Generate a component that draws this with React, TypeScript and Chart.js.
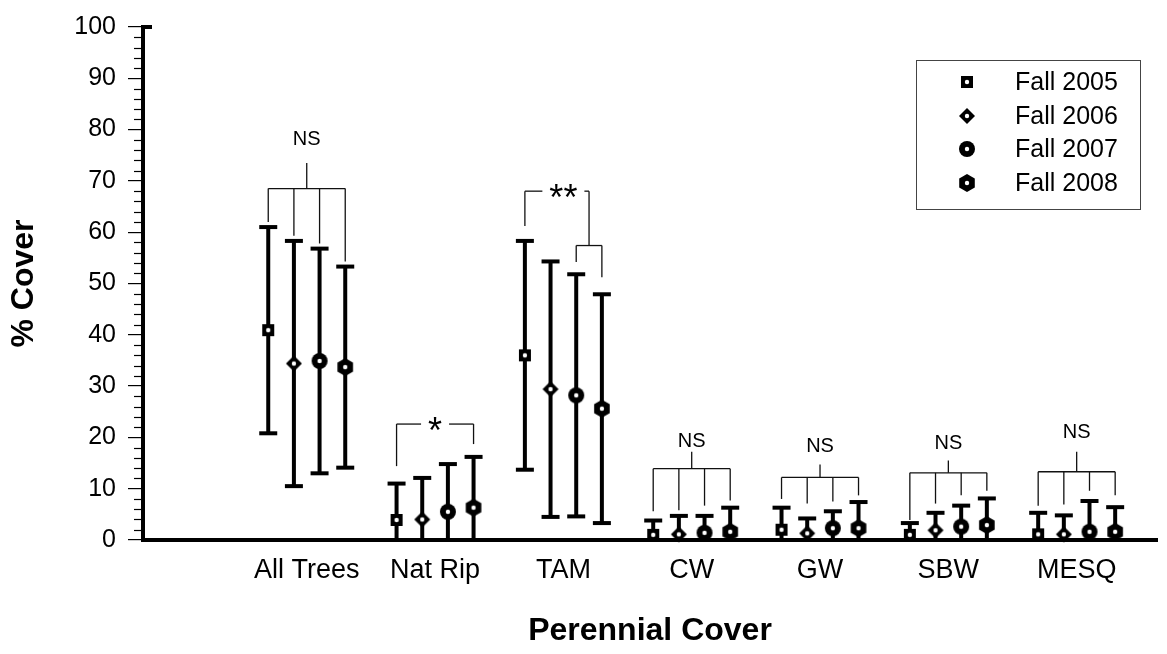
import React, { useEffect, useRef } from 'react';
import { Chart, registerables } from 'chart.js';

Chart.register(...registerables);

// ---------- data ----------
const categories = ['All Trees', 'Nat Rip', 'TAM', 'CW', 'GW', 'SBW', 'MESQ'];
const seriesNames = ['Fall 2005', 'Fall 2006', 'Fall 2007', 'Fall 2008'];

const mean2005 = [40.9, 3.9, 36.0, 1.0, 2.0, 1.0, 1.1];
const err2005 = [20.1, 7.1, 22.3, 2.8, 4.3, 2.3, 4.2];
const mean2006 = [34.4, 4.0, 29.4, 1.1, 1.3, 1.9, 1.1];
const err2006 = [23.9, 8.1, 24.9, 3.6, 2.9, 3.4, 3.7];
const mean2007 = [34.9, 5.5, 28.2, 1.4, 2.3, 2.6, 1.6];
const err2007 = [21.9, 9.3, 23.6, 3.3, 3.3, 4.1, 6.0];
const mean2008 = [33.7, 6.3, 25.6, 1.6, 2.3, 2.9, 1.6];
const err2008 = [19.6, 9.9, 22.3, 4.7, 5.1, 5.2, 4.8];

const seriesMeans = [mean2005, mean2006, mean2007, mean2008];
const seriesErrs = [err2005, err2006, err2007, err2008];

const yMajorTicks = [0, 10, 20, 30, 40, 50, 60, 70, 80, 90, 100];

// significance brackets (values in % cover units)
const bracketLabels = ['NS', '*', '**', 'NS', 'NS', 'NS', 'NS'];
const bracketLevels = [68.5, 22.6, 68.0, 13.9, 12.2, 13.1, 13.3];
const bracketSubLevels = [null, null, 57.4, null, null, null, null];
const bracketStemTops = [73.5, null, null, 17.2, 14.7, 15.5, 17.2];
const bracketLabelLevels = [78.3, 22.6, 68.0, 19.4, 18.6, 19.2, 21.2];
const bracketLegEnds = [
  [62.0, 59.3, 57.8, 54.3],
  [14.4, null, null, 18.7],
  [61.2, null, 54.2, 51.2],
  [5.6, 5.8, 6.7, 7.7],
  [8.0, 7.1, 7.5, 8.7],
  [3.9, 7.1, 8.7, 9.6],
  [6.7, 6.9, 9.6, 8.7],
];

const FONT = "'Liberation Sans', Arial, Helvetica, sans-serif";

function makeMarker(kind: number): HTMLCanvasElement {
  const c = document.createElement('canvas');
  c.width = 22;
  c.height = 22;
  const g = c.getContext('2d') as CanvasRenderingContext2D;
  const cx = 11, cy = 11;
  g.fillStyle = '#000';
  g.beginPath();
  if (kind === 0) {
    g.rect(cx - 6, cy - 6, 12, 12);
  } else if (kind === 1) {
    g.moveTo(cx, cy - 8);
    g.lineTo(cx + 8, cy);
    g.lineTo(cx, cy + 8);
    g.lineTo(cx - 8, cy);
    g.closePath();
  } else if (kind === 2) {
    g.arc(cx, cy, 8, 0, Math.PI * 2);
  } else {
    for (let i = 0; i < 6; i++) {
      const a = -Math.PI / 2 + (i * Math.PI) / 3;
      const px = cx + 9 * Math.cos(a);
      const py = cy + 9 * Math.sin(a);
      if (i === 0) g.moveTo(px, py);
      else g.lineTo(px, py);
    }
    g.closePath();
  }
  g.fill();
  g.fillStyle = '#fff';
  g.beginPath();
  g.arc(cx, cy, 2.2, 0, Math.PI * 2);
  g.fill();
  return c;
}

function centeredText(ctx: CanvasRenderingContext2D, text: string, x: number, yc: number) {
  const m = ctx.measureText(text);
  const asc = m.actualBoundingBoxAscent;
  const desc = m.actualBoundingBoxDescent;
  ctx.textAlign = 'center';
  ctx.textBaseline = 'alphabetic';
  ctx.fillText(text, x, yc + (asc - desc) / 2);
}

export default function App() {
  const ref = useRef<HTMLCanvasElement | null>(null);

  useEffect(() => {
    if (!ref.current) return;
    const markers = [0, 1, 2, 3].map(makeMarker);
    const off = (s: number) => (s - 1.5) * 0.2;

    const customPlugin = {
      id: 'customDraw',
      beforeDatasetsDraw(chart: any) {
        const { ctx } = chart;
        const x = chart.scales.x;
        const y = chart.scales.y;
        ctx.save();
        // error bars
        ctx.strokeStyle = '#000';
        ctx.lineWidth = 4;
        ctx.lineCap = 'butt';
        seriesMeans.forEach((means, s) => {
          means.forEach((m, g) => {
            const e = seriesErrs[s][g];
            const px = x.getPixelForValue(g + 1 + off(s));
            const hi = y.getPixelForValue(m + e);
            const loV = m - e;
            const lo = y.getPixelForValue(Math.max(0, loV));
            ctx.beginPath();
            ctx.moveTo(px, hi);
            ctx.lineTo(px, lo);
            ctx.stroke();
            ctx.beginPath();
            ctx.moveTo(px - 9, hi);
            ctx.lineTo(px + 9, hi);
            ctx.stroke();
            if (loV >= 0) {
              ctx.beginPath();
              ctx.moveTo(px - 9, lo);
              ctx.lineTo(px + 9, lo);
              ctx.stroke();
            }
          });
        });
        // brackets
        ctx.strokeStyle = '#111';
        ctx.fillStyle = '#000';
        ctx.lineWidth = 1.3;
        const line = (x1: number, y1: number, x2: number, y2: number) => {
          ctx.beginPath();
          ctx.moveTo(x1, y1);
          ctx.lineTo(x2, y2);
          ctx.stroke();
        };
        categories.forEach((_, g) => {
          const xs = [0, 1, 2, 3].map((s) => x.getPixelForValue(g + 1 + off(s)));
          const xc = x.getPixelForValue(g + 1);
          const lvl = y.getPixelForValue(bracketLevels[g]);
          const sub = bracketSubLevels[g];
          const subPx = sub != null ? y.getPixelForValue(sub) : null;
          const label = bracketLabels[g];
          const legs = bracketLegEnds[g];
          legs.forEach((le, s) => {
            if (le == null) return;
            const top = subPx != null && s >= 2 ? subPx : lvl;
            line(xs[s], top, xs[s], y.getPixelForValue(le));
          });
          if (label === 'NS') {
            line(xs[0], lvl, xs[3], lvl);
            const st = bracketStemTops[g] as number;
            line(xc, lvl, xc, y.getPixelForValue(st));
            ctx.font = `20px ${FONT}`;
            centeredText(ctx, label, xc, y.getPixelForValue(bracketLabelLevels[g]));
          } else {
            let rightX = xs[3];
            if (subPx != null) {
              rightX = (xs[2] + xs[3]) / 2;
              line(rightX, lvl, rightX, subPx);
              line(xs[2], subPx, xs[3], subPx);
            }
            ctx.font = `36px ${FONT}`;
            const w = ctx.measureText(label).width;
            const gap = w / 2 + 7;
            line(xs[0], lvl, xc - gap, lvl);
            line(xc + gap, lvl, rightX, lvl);
            centeredText(ctx, label, xc, y.getPixelForValue(bracketLabelLevels[g]));
          }
        });
        ctx.restore();
      },
      afterDraw(chart: any) {
        const { ctx, chartArea } = chart;
        const y = chart.scales.y;
        ctx.save();
        // minor ticks
        ctx.strokeStyle = '#000';
        ctx.lineWidth = 1.2;
        for (let v = 0; v <= 100; v += 2) {
          if (yMajorTicks.indexOf(v) >= 0) continue;
          const py = Math.round(y.getPixelForValue(v)) + 0.5;
          ctx.beginPath();
          ctx.moveTo(chartArea.left - 9, py);
          ctx.lineTo(chartArea.left, py);
          ctx.stroke();
        }
        // top cap of y axis
        ctx.lineWidth = 4;
        ctx.beginPath();
        ctx.moveTo(chartArea.left - 2, chartArea.top);
        ctx.lineTo(chartArea.left + 9, chartArea.top);
        ctx.stroke();
        // legend
        ctx.lineWidth = 1;
        ctx.strokeStyle = '#444';
        ctx.strokeRect(916.5, 60.5, 224, 149);
        const rows = [82, 116, 149, 183];
        ctx.font = `25px ${FONT}`;
        ctx.fillStyle = '#000';
        ctx.textAlign = 'left';
        ctx.textBaseline = 'middle';
        seriesNames.forEach((name, s) => {
          const mk = markers[s];
          ctx.drawImage(mk, 967 - mk.width / 2, rows[s] - mk.height / 2);
          ctx.fillText(name, 1015, rows[s] + 1);
        });
        ctx.restore();
      },
    };

    const datasets = seriesMeans.map((means, s) => ({
      label: seriesNames[s],
      data: means.map((m, g) => ({ x: g + 1 + off(s), y: m })),
      pointStyle: markers[s],
      pointRadius: 9,
      showLine: false,
      clip: false,
    }));

    const chart = new Chart(ref.current, {
      type: 'scatter',
      data: { datasets } as any,
      options: {
        responsive: false,
        animation: false,
        events: [],
        layout: { padding: { top: 20, right: 2, left: 0, bottom: 0 } },
        plugins: { legend: { display: false }, tooltip: { enabled: false } },
        scales: {
          x: {
            type: 'linear',
            min: -0.276,
            max: 7.626,
            afterBuildTicks: (s: any) => {
              s.ticks = categories.map((_, i) => ({ value: i + 1 }));
            },
            afterFit: (s: any) => {
              s.height = 114;
            },
            ticks: {
              autoSkip: false,
              maxRotation: 0,
              padding: 14,
              color: '#000',
              font: { family: FONT, size: 27 },
              callback: (v: any) => categories[Math.round(Number(v)) - 1] ?? '',
            },
            grid: { display: true, drawOnChartArea: false, drawTicks: false, color: 'rgba(0,0,0,0)' },
            border: { display: true, width: 4, color: '#000' },
            title: {
              display: true,
              text: 'Perennial Cover',
              color: '#000',
              font: { family: FONT, size: 32, weight: 'bold', lineHeight: 1 },
              padding: { top: 0, bottom: 7 },
            },
          },
          y: {
            type: 'linear',
            min: 0,
            max: 100,
            afterFit: (s: any) => {
              s.width = 143;
            },
            ticks: {
              stepSize: 2,
              autoSkip: false,
              padding: 12,
              color: '#000',
              font: { family: FONT, size: 25 },
              callback: (v: any) => (yMajorTicks.indexOf(Number(v)) >= 0 ? String(v) : ''),
            },
            grid: {
              drawOnChartArea: false,
              drawTicks: true,
              tickLength: 15,
              lineWidth: 1.2,
              color: (c: any) =>
                c.tick && yMajorTicks.indexOf(c.tick.value) >= 0 ? '#000' : 'rgba(0,0,0,0)',
            },
            border: { display: true, width: 4, color: '#000' },
            title: {
              display: true,
              text: '% Cover',
              color: '#000',
              font: { family: FONT, size: 32, weight: 'bold', lineHeight: 1 },
              padding: { top: 8, bottom: 0 },
            },
          },
        },
      } as any,
      plugins: [customPlugin],
    });
    return () => chart.destroy();
  }, []);

  return (
    <div style={{ position: 'fixed', left: 0, top: 0, width: 1167, height: 654, background: '#fff' }}>
      <canvas ref={ref} width={1167} height={654} style={{ width: 1167, height: 654 }} />
    </div>
  );
}
